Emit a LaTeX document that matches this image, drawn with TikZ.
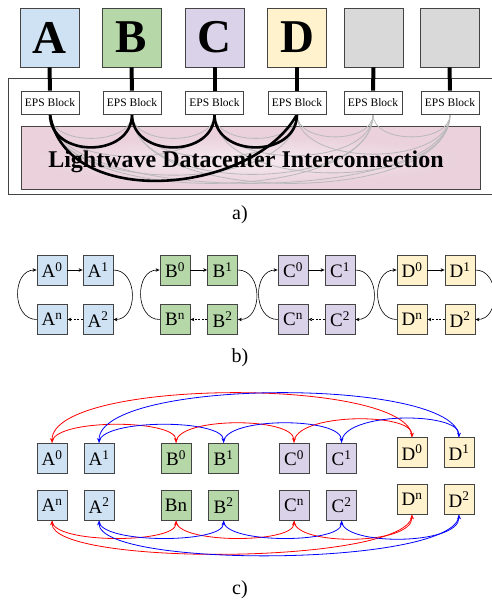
\documentclass[tikz,border=0pt]{standalone}
\usepackage{fontspec}
\setmainfont{Liberation Serif}
\usetikzlibrary{arrows.meta}
\definecolor{cA}{HTML}{CFE2F3}
\definecolor{cB}{HTML}{B6D7A8}
\definecolor{cC}{HTML}{D9D2E9}
\definecolor{cD}{HTML}{FFF2CC}
\definecolor{cG}{HTML}{D9D9D9}
\definecolor{cP}{HTML}{EAD1DC}
\definecolor{bd}{HTML}{444444}
\definecolor{myred}{HTML}{FF0000}
\definecolor{myblue}{HTML}{0000FF}
\pgfdeclarelayer{back}
\pgfdeclarelayer{mid}
\pgfsetlayers{back,mid,main}
\tikzset{
  bigbox/.style={draw=bd, line width=0.8pt, minimum width=59pt, minimum height=59pt, inner sep=0pt, font=\fontsize{47}{47}\selectfont\bfseries},
  epsbox/.style={draw=bd, fill=white, line width=0.8pt, minimum width=58pt, minimum height=23pt, inner sep=0pt, font=\fontsize{11.5}{12}\selectfont},
  sbox/.style={draw=bd, line width=0.8pt, minimum width=30pt, minimum height=30pt, inner sep=0pt, font=\fontsize{19}{19}\selectfont},
  lbl/.style={anchor=base, font=\fontsize{20}{20}\selectfont},
  link/.style={line width=4pt},
  mesh/.style={gray!55, line width=0.8pt},
  blk/.style={black, line width=2.6pt},
  arr/.style={-{Stealth[length=4pt,width=3.5pt]}, line width=0.6pt},
  rarr/.style={-{Stealth[length=4.5pt,width=4pt]}, line width=0.8pt, myred},
  barr/.style={-{Stealth[length=4.5pt,width=4pt]}, line width=0.8pt, myblue},
}
\newcommand{\sps}[1]{\textsuperscript{#1}}
\begin{document}
\begin{tikzpicture}[x=1pt,y=-1pt]
\useasboundingbox (0,0) rectangle (492,600);
% ---------- a) ----------
\begin{pgfonlayer}{back}
  \fill[white] (0,0) rectangle (492,600);
  \draw[bd, line width=0.8pt] (8,78) rectangle (510,194);
  \node[draw=bd, fill=cP, line width=0.8pt, minimum width=459pt, minimum height=63pt, inner sep=0pt] (ldi) at (250.5,157.5) {};
  \shade[inner color=cP!45!white, outer color=cP] (246,160) ellipse [x radius=215, y radius=24];
\end{pgfonlayer}
\node[bigbox, fill=cA] (TA) at (49.5,37.5) {A};
\node[bigbox, fill=cB] (TB) at (131.5,37.5) {B};
\node[bigbox, fill=cC] (TC) at (214.5,37.5) {C};
\node[bigbox, fill=cD] (TD) at (297,37.5) {D};
\node[bigbox, fill=cG] (TG1) at (373.5,37.5) {};
\node[bigbox, fill=cG] (TG2) at (449.5,37.5) {};
\node[epsbox] (E1) at (50,102.5) {EPS Block};
\node[epsbox] (E2) at (132,102.5) {EPS Block};
\node[epsbox] (E3) at (214.5,102.5) {EPS Block};
\node[epsbox] (E4) at (297,102.5) {EPS Block};
\node[epsbox] (E5) at (373,102.5) {EPS Block};
\node[epsbox] (E6) at (450,102.5) {EPS Block};
\foreach \t/\e in {TA/E1,TB/E2,TC/E3,TD/E4,TG1/E5,TG2/E6}
  \draw[link] (\t.south) -- (\e.north);
\begin{pgfonlayer}{mid}
  \foreach \a/\b/\h in {E1/E2/32,E1/E3/56,E1/E4/81,E1/E5/92,E1/E6/92,E2/E3/32,E2/E4/57,E2/E5/80,E2/E6/92,E3/E4/32,E3/E5/55,E3/E6/78,E4/E5/30,E4/E6/53,E5/E6/30}
    \draw[mesh] (\a.south) .. controls +(0,\h) and +(0,\h) .. (\b.south);
  \draw[blk] (E1.south) .. controls +(0,44) and +(0,44) .. (E2.south);
  \draw[blk] (E2.south) .. controls +(0,44) and +(0,44) .. (E3.south);
  \draw[blk] (E3.south) .. controls +(0,44) and +(0,44) .. (E4.south);
  \draw[blk] (E1.south) .. controls +(15,96) and +(-45,81) .. (E4.south);
\end{pgfonlayer}
\node[anchor=base, font=\fontsize{24}{24}\selectfont\bfseries] (ldt) at (246,167) {Lightwave Datacenter Interconnection};
\node[lbl] (la) at (240,219) {a)};
% ---------- b) ----------
\foreach \L/\c/\xa/\xb in {A/cA/52/98,B/cB/175/222.5,C/cC/293/340,D/cD/412/460}{
  \node[sbox, fill=\c] (b\L0) at (\xa,270) {\L\sps{0}};
  \node[sbox, fill=\c] (b\L1) at (\xb,270) {\L\sps{1}};
  \node[sbox, fill=\c] (b\L n) at (\xa,319.5) {\L\sps{n}};
  \node[sbox, fill=\c] (b\L2) at (\xb,319.5) {\L\sps{2}};
  \draw[arr] (b\L0) -- (b\L1);
  \draw[arr] (b\L1.east) .. controls +(25,0) and +(25,0) .. (b\L2.east);
  \draw[arr, dash pattern=on 2pt off 1.5pt] (b\L2) -- (b\L n);
  \draw[arr] (b\L n.west) .. controls +(-25,0) and +(-25,0) .. (b\L0.west);
}
\node[lbl] (lb) at (240,362) {b)};
% ---------- c) ----------
\node[sbox, fill=cA] (cA0) at (52,458) {A\sps{0}};
\node[sbox, fill=cA] (cA1) at (99,458) {A\sps{1}};
\node[sbox, fill=cB] (cB0) at (176,458) {B\sps{0}};
\node[sbox, fill=cB] (cB1) at (223.5,458) {B\sps{1}};
\node[sbox, fill=cC] (cC0) at (294,458) {C\sps{0}};
\node[sbox, fill=cC] (cC1) at (341.5,458) {C\sps{1}};
\node[sbox, fill=cD] (cD0) at (412,452.5) {D\sps{0}};
\node[sbox, fill=cD] (cD1) at (459,452.5) {D\sps{1}};
\node[sbox, fill=cA] (cAn) at (52,505.5) {A\sps{n}};
\node[sbox, fill=cA] (cA2) at (99,505.5) {A\sps{2}};
\node[sbox, fill=cB] (cBn) at (176,505.5) {Bn};
\node[sbox, fill=cB] (cB2) at (223.5,505.5) {B\sps{2}};
\node[sbox, fill=cC] (cCn) at (294,505.5) {C\sps{n}};
\node[sbox, fill=cC] (cC2) at (341.5,505.5) {C\sps{2}};
\node[sbox, fill=cD] (cDn) at (412,499.5) {D\sps{n}};
\node[sbox, fill=cD] (cD2) at (459,499.5) {D\sps{2}};
% top ring red / blue
\draw[rarr] (cA0.north) .. controls +(0,-24) and +(0,-24) .. (cB0.north);
\draw[rarr] (cB0.north) .. controls +(0,-26) and +(0,-26) .. (cC0.north);
\draw[rarr] (cC0.north) .. controls +(0,-30) and +(0,-25) .. (cD0.north);
\draw[rarr] (cD0.north) .. controls +(0,-60) and +(0,-65) .. (cA0.north);
\draw[barr] (cA1.north) .. controls +(0,-24) and +(0,-24) .. (cB1.north);
\draw[barr] (cB1.north) .. controls +(0,-26) and +(0,-26) .. (cC1.north);
\draw[barr] (cC1.north) .. controls +(0,-31) and +(0,-26) .. (cD1.north);
\draw[barr] (cD1.north) .. controls +(0,-60) and +(0,-65) .. (cA1.north);
% bottom ring red / blue
\draw[rarr] (cAn.south) .. controls +(0,23) and +(0,23) .. (cBn.south);
\draw[rarr] (cBn.south) .. controls +(0,23) and +(0,23) .. (cCn.south);
\draw[rarr] (cCn.south) .. controls +(0,25) and +(0,31) .. (cDn.south);
\draw[rarr] (cDn.south) .. controls +(0,50) and +(0,46) .. (cAn.south);
\draw[barr] (cA2.south) .. controls +(0,23) and +(0,23) .. (cB2.south);
\draw[barr] (cB2.south) .. controls +(0,23) and +(0,23) .. (cC2.south);
\draw[barr] (cC2.south) .. controls +(0,25) and +(0,31) .. (cD2.south);
\draw[barr] (cD2.south) .. controls +(0,52) and +(0,48) .. (cA2.south);
\node[lbl] (lc) at (240,594) {c)};
\end{tikzpicture}
\end{document}
